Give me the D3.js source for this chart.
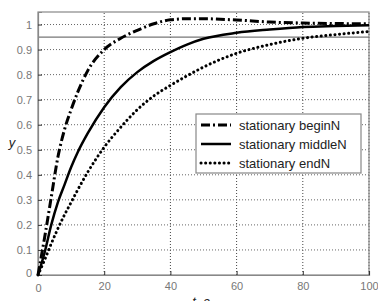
<!DOCTYPE html>
<html lang="en">
<head>
    <meta charset="UTF-8">
    <title>stationary</title>
    <script src="https://cdn.jsdelivr.net/npm/d3@7"></script>
    <style>
        body { margin: 0; background: #fff; }
        svg { font-family: "Liberation Sans", Arial, sans-serif; }
        .tick text { fill: #777; font-size: 11px; }
    </style>
</head>
<body>
<div id="chart"></div>
<script>
    // time, seconds
    const tValues = [0, 2, 4, 6, 8, 10, 12, 15, 20, 25, 30, 35, 40, 45, 50, 60, 70, 80, 90, 100];
    const beginN  = [0, 0.15, 0.31, 0.47, 0.58, 0.66, 0.73, 0.815, 0.90, 0.945, 0.977, 1.003, 1.019, 1.023, 1.023, 1.018, 1.01, 1.006, 1.004, 1.003];
    const middleN = [0, 0.09, 0.20, 0.29, 0.36, 0.43, 0.49, 0.565, 0.67, 0.75, 0.81, 0.855, 0.89, 0.92, 0.943, 0.967, 0.98, 0.99, 0.994, 0.997];
    const endN    = [0, 0.06, 0.125, 0.185, 0.24, 0.29, 0.34, 0.41, 0.51, 0.59, 0.66, 0.715, 0.757, 0.795, 0.83, 0.885, 0.92, 0.945, 0.96, 0.972];
    const seriesNames = ["stationary beginN", "stationary middleN", "stationary endN"];
    const xTicks = [0, 20, 40, 60, 80, 100];
    const yTicks = [0, 0.1, 0.2, 0.3, 0.4, 0.5, 0.6, 0.7, 0.8, 0.9, 1];
    const refLevel = 0.95;

    const width = 378, height = 301;
    const margin = {left: 38, top: 12, right: 9, bottom: 26};

    const svg = d3.select("#chart").append("svg")
        .attr("width", width)
        .attr("height", height);

    const x = d3.scaleLinear().domain([0, 100]).range([margin.left, width - margin.right]);
    const y = d3.scaleLinear().domain([0, 1.05]).range([height - margin.bottom, margin.top]);

    // grid
    const grid = svg.append("g");
    grid.selectAll("line.gx").data(xTicks.slice(1)).enter().append("line")
        .attr("x1", d => x(d)).attr("x2", d => x(d))
        .attr("y1", y(0)).attr("y2", y(1.05))
        .attr("stroke", "#444").attr("stroke-width", 1).attr("stroke-dasharray", "1,2");
    grid.selectAll("line.gy").data(yTicks.slice(1)).enter().append("line")
        .attr("x1", x(0)).attr("x2", x(100))
        .attr("y1", d => y(d)).attr("y2", d => y(d))
        .attr("stroke", "#666").attr("stroke-width", 1).attr("stroke-dasharray", "1,2");

    // frame
    svg.append("rect")
        .attr("x", x(0)).attr("y", y(1.05))
        .attr("width", x(100) - x(0)).attr("height", y(0) - y(1.05))
        .attr("fill", "none").attr("stroke", "#888").attr("stroke-width", 1.2);

    // 0.95 level
    svg.append("line")
        .attr("x1", x(0)).attr("x2", x(100))
        .attr("y1", y(refLevel)).attr("y2", y(refLevel))
        .attr("stroke", "#777").attr("stroke-width", 1.2);

    // axes
    const xAxis = svg.append("g")
        .attr("transform", `translate(0,${y(0)})`)
        .call(d3.axisBottom(x).tickValues(xTicks).tickSize(-4).tickPadding(7).tickFormat(d3.format("d")));
    const yAxis = svg.append("g")
        .attr("transform", `translate(${x(0)},0)`)
        .call(d3.axisLeft(y).tickValues(yTicks).tickSize(-4).tickPadding(6).tickFormat(d => d === 0 ? "0" : d3.format(".1f")(d).replace(/\.0$/, "")));
    [xAxis, yAxis].forEach(a => {
        a.select(".domain").attr("stroke", "#888").attr("stroke-width", 1.2);
        a.selectAll(".tick line").attr("stroke", "#333");
    });
    xAxis.select(".tick text").attr("dy", "0.9em");
    yAxis.selectAll(".tick text").filter(d => d === 0).attr("dy", "0.1em");

    // curves
    const styles = [
        {dash: "9,3,2,3", width: 3, cap: "butt"},
        {dash: null, width: 2.5, cap: "butt"},
        {dash: "0.1,4.5", width: 3, cap: "round"}
    ];
    const allSeries = [beginN, middleN, endN];
    const line = d3.line()
        .x((d, i) => x(tValues[i]))
        .y(d => y(d))
        .curve(d3.curveMonotoneX);

    allSeries.forEach((s, k) => {
        svg.append("path")
            .datum(s)
            .attr("d", line)
            .attr("fill", "none")
            .attr("stroke", "#000")
            .attr("stroke-width", styles[k].width)
            .attr("stroke-linecap", styles[k].cap)
            .attr("stroke-dasharray", styles[k].dash);
    });

    // labels
    svg.append("text")
        .attr("x", 12).attr("y", 147)
        .attr("text-anchor", "middle")
        .attr("font-style", "italic")
        .attr("font-size", 13)
        .attr("fill", "#222")
        .text("y");
    svg.append("text")
        .attr("x", 201).attr("y", 306)
        .attr("text-anchor", "middle")
        .attr("font-style", "italic")
        .attr("font-size", 13)
        .attr("fill", "#222")
        .text("t, c");

    // legend
    const lg = svg.append("g").attr("transform", "translate(196,114)");
    lg.append("rect")
        .attr("width", 165).attr("height", 59)
        .attr("fill", "#fff").attr("stroke", "#888").attr("stroke-width", 1.2);
    seriesNames.forEach((name, k) => {
        const ry = 11 + k * 19;
        lg.append("line")
            .attr("x1", 5).attr("x2", 35)
            .attr("y1", ry).attr("y2", ry)
            .attr("stroke", "#000")
            .attr("stroke-width", styles[k].width)
            .attr("stroke-linecap", styles[k].cap)
            .attr("stroke-dasharray", styles[k].dash);
        lg.append("text")
            .attr("x", 43).attr("y", ry + 4.5)
            .attr("font-size", 13)
            .attr("fill", "#222")
            .text(name);
    });
</script>
</body>
</html>
